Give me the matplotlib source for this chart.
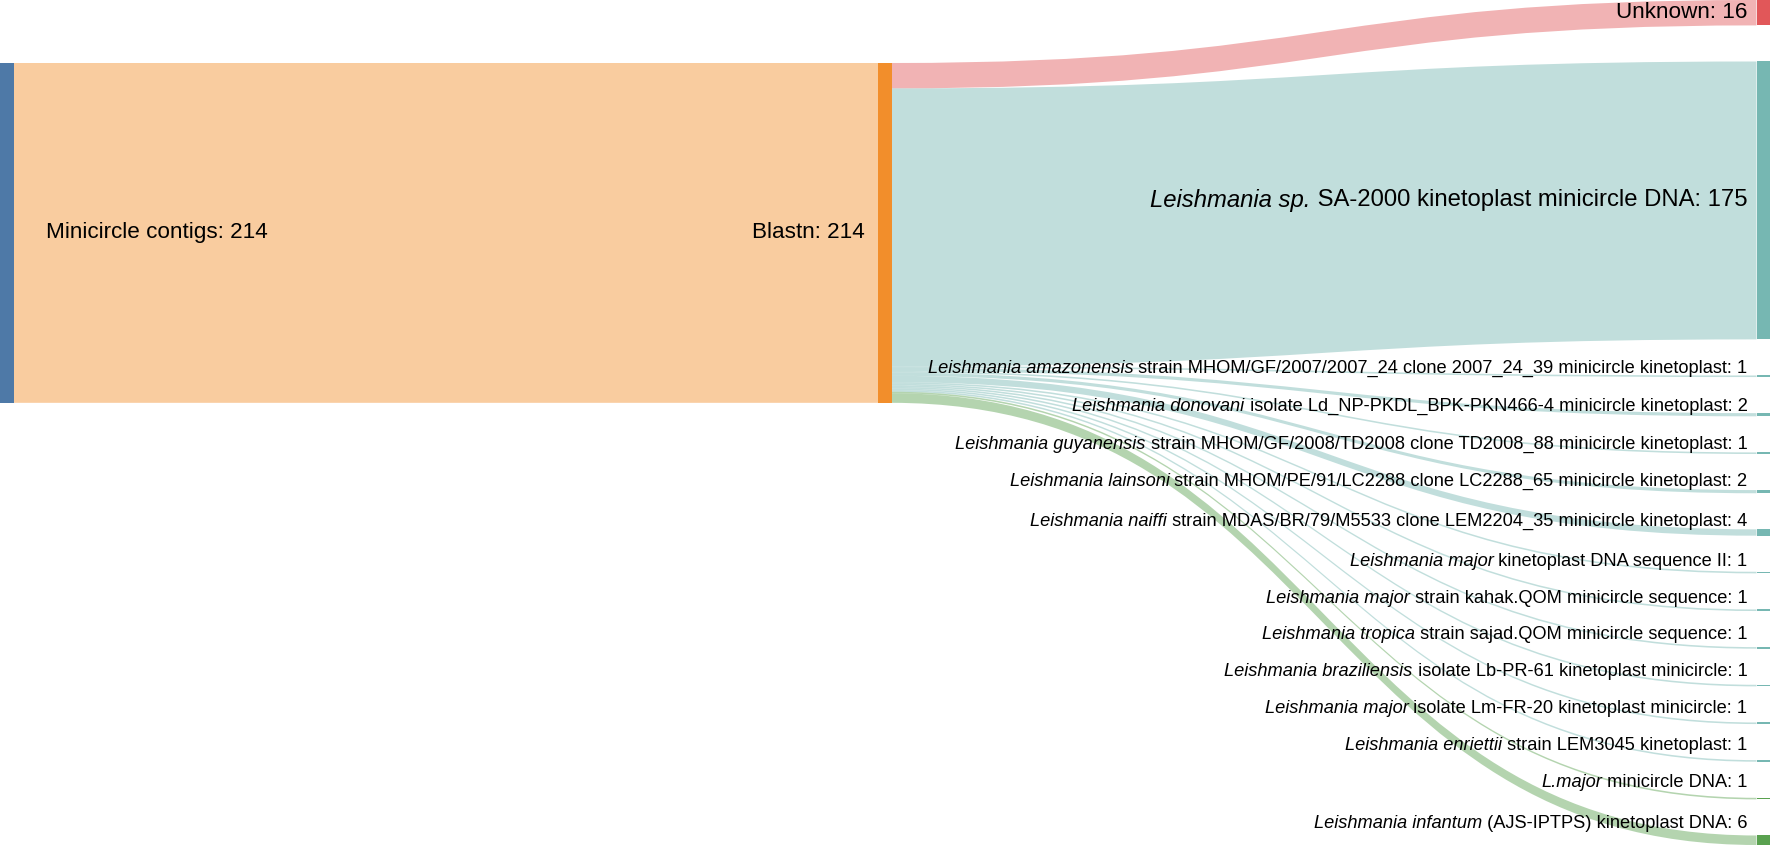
import numpy as np
import matplotlib.pyplot as plt
from matplotlib.path import Path
from matplotlib.patches import PathPatch, Rectangle
from matplotlib.colors import to_rgba

plt.rcParams['font.family'] = ['Liberation Sans', 'DejaVu Sans']

# ---- data ----
node_italic = ["", "", "",
               "Leishmania sp.",
               "Leishmania amazonensis",
               "Leishmania donovani",
               "Leishmania guyanensis",
               "Leishmania lainsoni",
               "Leishmania naiffi",
               "Leishmania major",
               "Leishmania major",
               "Leishmania tropica",
               "Leishmania braziliensis",
               "Leishmania major",
               "Leishmania enriettii",
               "L.major",
               "Leishmania infantum"]
node_rest = ["Minicircle contigs",
             "Blastn",
             "Unknown",
             " SA-2000 kinetoplast minicircle DNA",
             " strain MHOM/GF/2007/2007_24 clone 2007_24_39 minicircle kinetoplast",
             " isolate Ld_NP-PKDL_BPK-PKN466-4 minicircle kinetoplast",
             " strain MHOM/GF/2008/TD2008 clone TD2008_88 minicircle kinetoplast",
             " strain MHOM/PE/91/LC2288 clone LC2288_65 minicircle kinetoplast",
             " strain MDAS/BR/79/M5533 clone LEM2204_35 minicircle kinetoplast",
             " kinetoplast DNA sequence II",
             " strain kahak.QOM minicircle sequence",
             " strain sajad.QOM minicircle sequence",
             " isolate Lb-PR-61 kinetoplast minicircle",
             " isolate Lm-FR-20 kinetoplast minicircle",
             " strain LEM3045 kinetoplast",
             " minicircle DNA",
             " (AJS-IPTPS) kinetoplast DNA"]
node_values = [214, 214, 16, 175, 1, 2, 1, 2, 4, 1, 1, 1, 1, 1, 1, 1, 6]
node_column = [0, 1] + [2] * 15
node_colors = ['#4e79a7', '#f28e2b', '#e15759'] + ['#76b7b2'] * 12 + ['#59a14f', '#59a14f']

link_source = [0] + [1] * 15
link_target = list(range(1, 17))
link_value = [214, 16, 175, 1, 2, 1, 2, 4, 1, 1, 1, 1, 1, 1, 1, 6]

# ---- layout ----
W, H = 1770, 847
node_w = 13.5
k = 1.588          # px per unit
pad = (H - 2 - sum(node_values[2:]) * k) / 14
col_x = [0, (W - node_w) / 2, W - node_w]
col_top = {0: 63, 1: 63, 2: 0}

fig = plt.figure(figsize=(W / 100, H / 100), dpi=100)
ax = fig.add_axes([0, 0, 1, 1])
ax.set_xlim(0, W)
ax.set_ylim(H, 0)
ax.axis('off')

ny0, ny1 = [], []
cursor = dict(col_top)
for i, v in enumerate(node_values):
    c = node_column[i]
    ny0.append(cursor[c])
    ny1.append(cursor[c] + v * k)
    cursor[c] += v * k + pad

# links
src_off = [ny0[i] for i in range(len(node_values))]
tgt_off = [ny0[i] for i in range(len(node_values))]
for s, t, v in zip(link_source, link_target, link_value):
    x0 = col_x[node_column[s]] + node_w
    x1 = col_x[node_column[t]]
    xm = (x0 + x1) / 2
    a0, b0 = src_off[s], src_off[s] + v * k
    a1, b1 = tgt_off[t], tgt_off[t] + v * k
    src_off[s] = b0
    tgt_off[t] = b1
    verts = [(x0, a0), (xm, a0), (xm, a1), (x1, a1),
             (x1, b1), (xm, b1), (xm, b0), (x0, b0), (x0, a0)]
    codes = [Path.MOVETO, Path.CURVE4, Path.CURVE4, Path.CURVE4,
             Path.LINETO, Path.CURVE4, Path.CURVE4, Path.CURVE4, Path.CLOSEPOLY]
    ax.add_patch(PathPatch(Path(verts, codes), facecolor=to_rgba(node_colors[t], 0.45),
                           edgecolor='none', lw=0))

# nodes
for i, v in enumerate(node_values):
    x = col_x[node_column[i]]
    ax.add_patch(Rectangle((x, ny0[i]), node_w, ny1[i] - ny0[i],
                           facecolor=node_colors[i], edgecolor='none'))

# labels
renderer = fig.canvas.get_renderer()
for i, v in enumerate(node_values):
    c = node_column[i]
    yc = (ny0[i] + ny1[i]) / 2
    if v >= 100 and c == 2:
        fs = 17.2
    elif v >= 10:
        fs = 16.2
    else:
        fs = 13.15
    rest = node_rest[i] + ": " + str(v)
    if c == 0:
        ax.text(col_x[c] + node_w + 33, yc, rest, ha='left', va='center', fontsize=fs)
        continue
    if c == 2 and v < 10:
        yc = yc * 0.98
    xe = col_x[c] - (13 if c == 1 else 9)
    t = ax.text(xe, yc, rest, ha='right', va='center', fontsize=fs)
    if node_italic[i]:
        bb = t.get_window_extent(renderer=renderer)
        x_it = ax.transData.inverted().transform((bb.x0, bb.y0))[0]
        ax.text(x_it, yc, node_italic[i], ha='right', va='center', fontsize=fs,
                style='italic')

fig.savefig('out.png', dpi=100)
